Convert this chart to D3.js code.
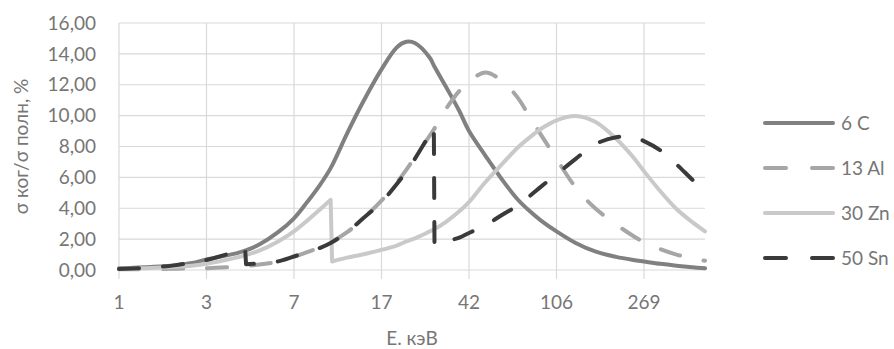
<!DOCTYPE html>
<html>
<head>
<meta charset="utf-8">
<script src="https://cdn.jsdelivr.net/npm/d3@7"></script>
<style>
  body { margin: 0; background: #fff; }
  text { font-family: Lato, "Open Sans", sans-serif; fill: #767676; }
</style>
</head>
<body>
<svg id="chart" width="894" height="349"></svg>
<script>
// energies, keV (edge points are doubled: pre-edge / post-edge)
var energy = [1, 1.5, 2, 2.5, 3, 4, 4.36, 4.4, 5, 6, 7, 8, 9, 10.15, 10.3, 12, 14, 17, 20, 22, 24, 28, 29.2, 29.4,
              33, 38, 42, 50, 60, 70, 80, 90, 106, 130, 160, 200, 240, 269, 320, 380, 450, 515];

// coherent / total cross section, %  (null = point not used by this series)
var c6 = [0.11, 0.2, 0.3, 0.45, 0.68, 1.08, 1.25, null, 1.65, 2.45, 3.35, 4.4, 5.4, 6.6, null, 8.85, 10.8, 13.0, 14.45, 14.78, 14.7, 13.75, 13.25, null,
          11.9, 10.3, 9.0, 7.4, 5.8, 4.6, 3.8, 3.2, 2.5, 1.75, 1.2, 0.85, 0.65, 0.55, 0.4, 0.28, 0.18, 0.11];
var al13 = [0.05, 0.06, 0.08, 0.1, 0.12, 0.22, 0.27, null, 0.35, 0.55, 0.85, 1.15, 1.45, 1.8, null, 2.45, 3.3, 4.5, 5.7, 6.5, 7.3, 8.7, 9.1, null,
            10.4, 11.6, 12.2, 12.8, 12.2, 11.2, 9.9, 8.75, 7.2, 5.35, 4.0, 2.95, 2.2, 1.8, 1.35, 1.0, 0.76, 0.6];
var zn30 = [0.08, 0.13, 0.2, 0.28, 0.4, 0.8, 0.95, null, 1.25, 1.85, 2.5, 3.2, 3.85, 4.55, 0.55, 0.8, 1.0, 1.3, 1.6, 1.85, 2.05, 2.5, 2.62, null,
            3.1, 3.8, 4.4, 5.7, 6.9, 7.9, 8.6, 9.15, 9.7, 9.98, 9.6, 8.5, 7.3, 6.4, 5.1, 3.95, 3.1, 2.5];
var sn50 = [0.07, 0.16, 0.3, 0.48, 0.65, 1.2, 1.4, 0.38, 0.42, 0.56, 0.88, 1.15, 1.4, 1.75, null, 2.45, 3.3, 4.4, 5.6, 6.4, 7.2, 8.8, 9.25, 1.6,
            1.85, 2.1, 2.4, 2.9, 3.6, 4.15, 4.8, 5.4, 6.2, 7.2, 8.15, 8.6, 8.6, 8.35, 7.75, 6.85, 5.85, 5.1];

var seriesNames = ["6 C", "13 Al", "30 Zn", "50 Sn"];
var seriesColors = ["#808080", "#a6a6a6", "#c9c9c9", "#3a3a3a"];
var seriesDash = [null, "20,24", null, "20,24"];
var seriesValues = [c6, al13, zn30, sn50];

var xTickLabels = [1, 3, 7, 17, 42, 106, 269];
var yTicks = [0, 2, 4, 6, 8, 10, 12, 14, 16];

var svg = d3.select("#chart");

var plotLeft = 119, labelStep = 87.5, plotTop = 23, plotBottom = 270;

// category-like axis: labels evenly spaced, log interpolation between them
var xScale = d3.scaleLinear()
    .domain(xTickLabels.map(function(d) { return Math.log10(d); }))
    .range(xTickLabels.map(function(d, i) { return plotLeft + labelStep * i; }));
var x = function(e) { return xScale(Math.log10(e)); };
var plotRight = x(energy[energy.length - 1]);

var yScale = d3.scaleLinear().domain([0, 16]).range([plotBottom, plotTop]);

var fmt = d3.formatLocale({decimal: ",", thousands: " ", grouping: [3], currency: ["", ""]}).format(".2f");

// gridlines
svg.append("g").selectAll("line")
   .data(yTicks)
   .enter().append("line")
   .attr("x1", plotLeft).attr("x2", plotRight)
   .attr("y1", function(d) { return yScale(d); })
   .attr("y2", function(d) { return yScale(d); })
   .attr("stroke", "#d9d9d9").attr("stroke-width", 1.2);

svg.append("g").selectAll("line")
   .data(xTickLabels)
   .enter().append("line")
   .attr("x1", function(d) { return x(d); })
   .attr("x2", function(d) { return x(d); })
   .attr("y1", plotTop).attr("y2", plotBottom + 9)
   .attr("stroke", "#d9d9d9").attr("stroke-width", 1.2);

// tick labels
svg.append("g").selectAll("text")
   .data(yTicks)
   .enter().append("text")
   .attr("x", 96)
   .attr("y", function(d) { return yScale(d); })
   .attr("dy", "0.35em")
   .attr("text-anchor", "end")
   .attr("font-size", "19px")
   .text(function(d) { return fmt(d); });

svg.append("g").selectAll("text")
   .data(xTickLabels)
   .enter().append("text")
   .attr("x", function(d) { return x(d); })
   .attr("y", 302)
   .attr("dy", "0.35em")
   .attr("text-anchor", "middle")
   .attr("font-size", "19px")
   .text(function(d) { return d; });

// axis titles
svg.append("text")
   .attr("x", (plotLeft + plotRight) / 2)
   .attr("y", 338)
   .attr("dy", "0.35em")
   .attr("text-anchor", "middle")
   .attr("font-size", "19px")
   .text("Е. кэВ");

svg.append("text")
   .attr("transform", "translate(21," + (plotTop + plotBottom) / 2 + ") rotate(-90)")
   .attr("dy", "0.35em")
   .attr("text-anchor", "middle")
   .attr("font-size", "19px")
   .text("σ ког/σ полн, %");

// lines: smooth pieces, joined by straight drops at absorption edges
var line = d3.line()
    .x(function(d) { return x(d[0]); })
    .y(function(d) { return yScale(d[1]); })
    .curve(d3.curveCatmullRom.alpha(0.5));

seriesValues.forEach(function(vals, i) {
    var pts = energy.map(function(e, j) { return [e, vals[j]]; })
                    .filter(function(d) { return d[1] != null; });
    var pieces = [[pts[0]]];
    for (var j = 1; j < pts.length; j++) {
        if (pts[j][0] / pts[j - 1][0] < 1.03) pieces.push([]);
        pieces[pieces.length - 1].push(pts[j]);
    }
    var d = pieces.map(function(p, k) {
        var s = line(p);
        return k === 0 ? s : s.replace(/^M/, "L");
    }).join("");
    svg.append("path")
       .attr("d", d)
       .attr("fill", "none")
       .attr("stroke", seriesColors[i])
       .attr("stroke-width", 4)
       .attr("stroke-linecap", "round")
       .attr("stroke-linejoin", "round")
       .attr("stroke-dasharray", seriesDash[i]);
});

// legend
var legend = svg.append("g").selectAll("g")
   .data(seriesNames)
   .enter().append("g")
   .attr("transform", function(d, i) { return "translate(0," + (123 + 45 * i) + ")"; });

legend.append("line")
   .attr("x1", 765).attr("x2", 833)
   .attr("stroke", function(d, i) { return seriesColors[i]; })
   .attr("stroke-width", 4)
   .attr("stroke-linecap", "round")
   .attr("stroke-dasharray", function(d, i) { return seriesDash[i] ? "21,26" : null; });

legend.append("text")
   .attr("x", 841)
   .attr("dy", "0.35em")
   .attr("font-size", "19px")
   .text(function(d) { return d; });
</script>
</body>
</html>
